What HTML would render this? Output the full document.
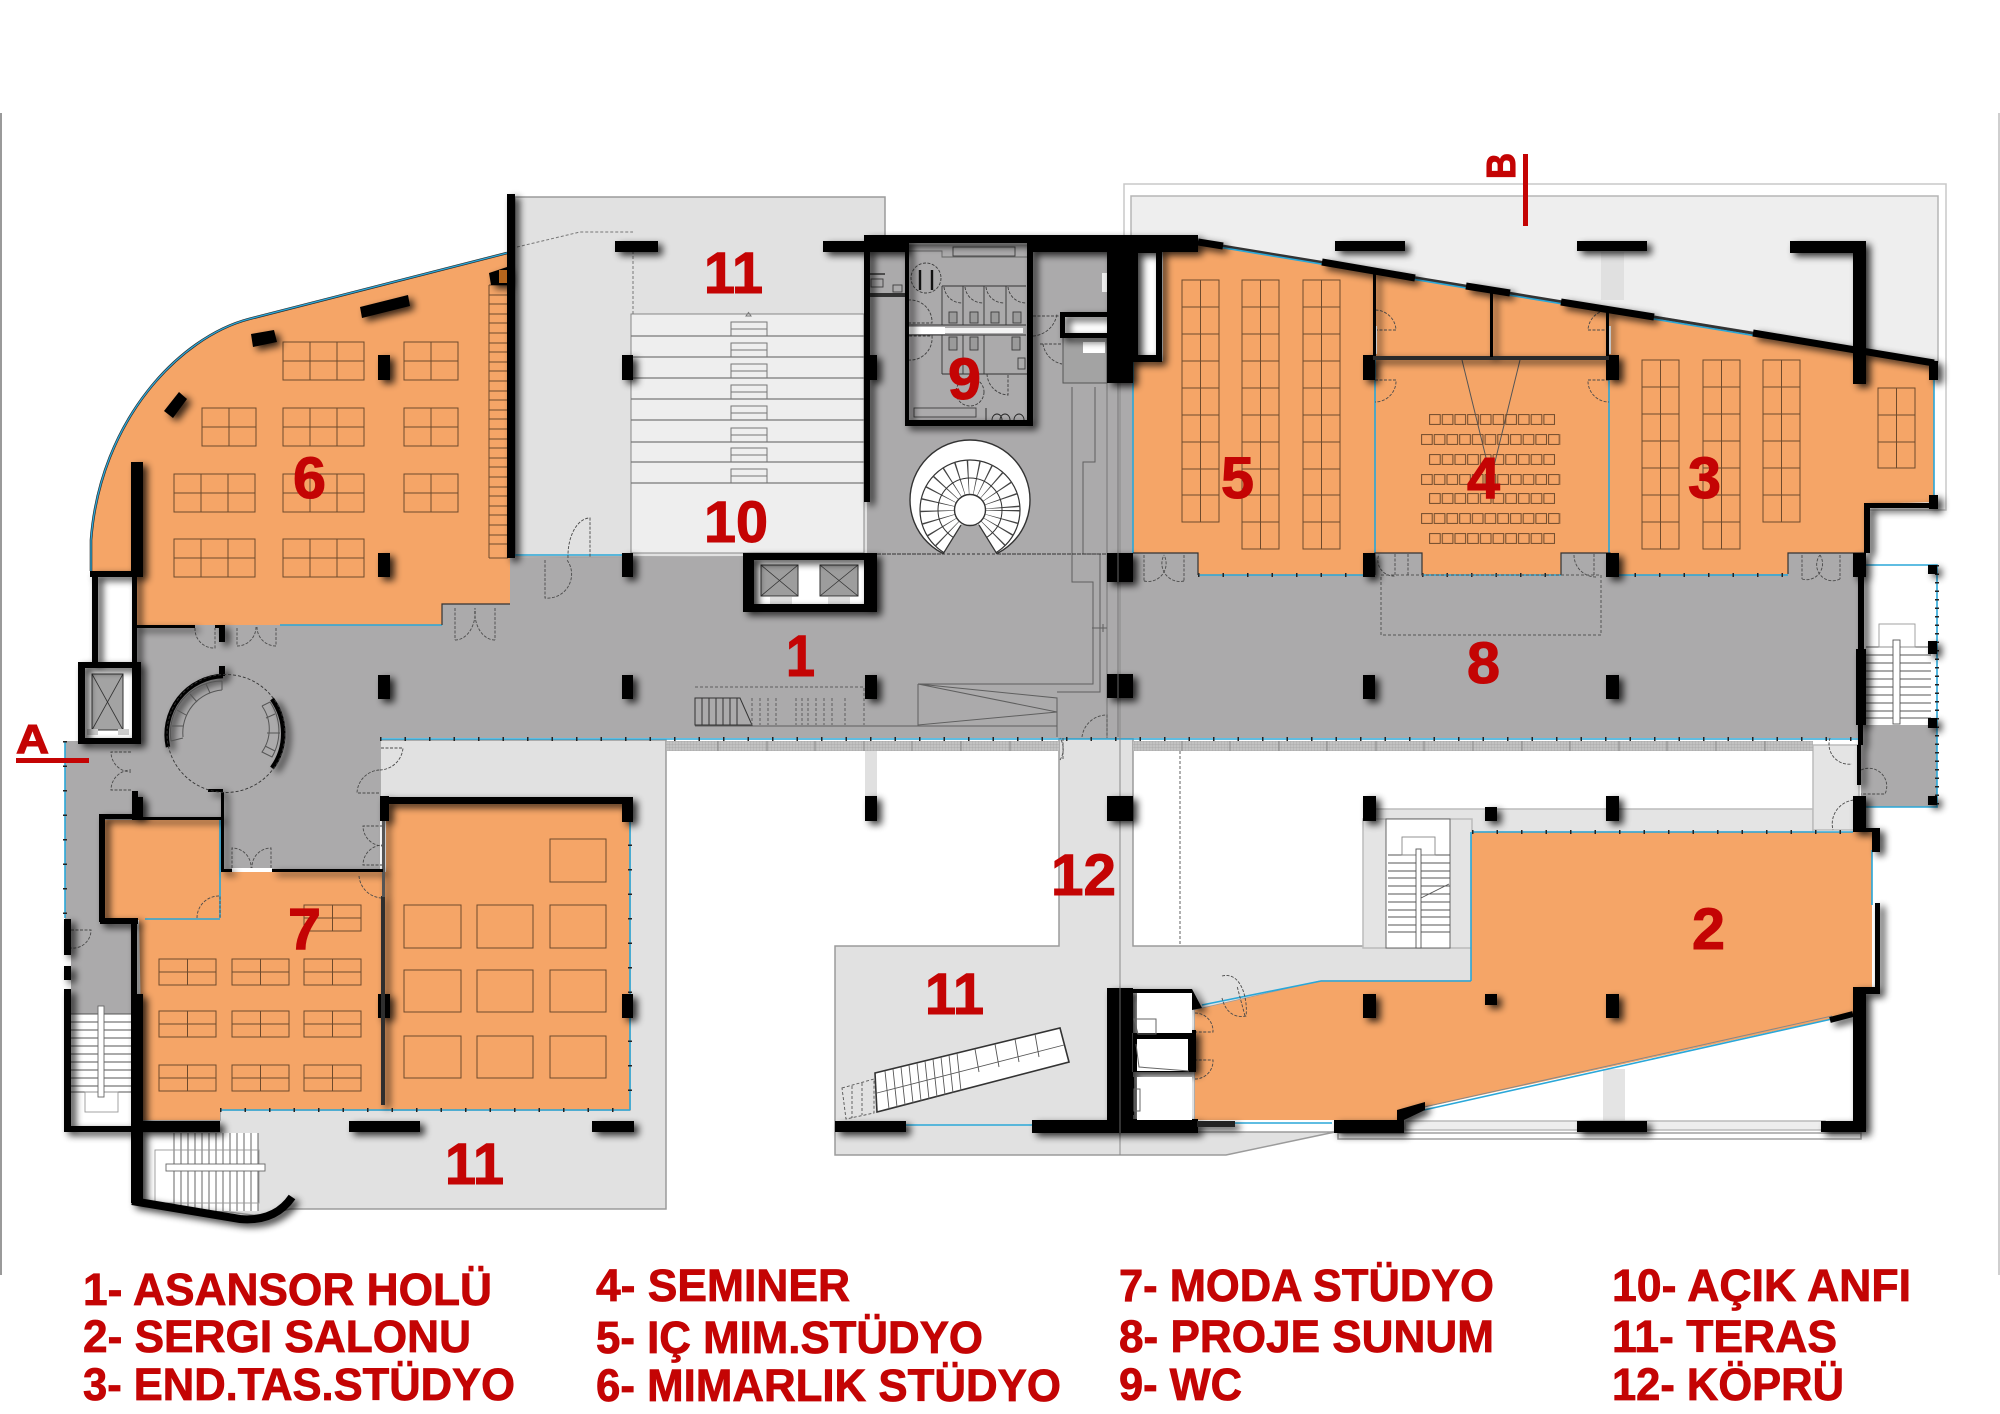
<!DOCTYPE html>
<html><head><meta charset="utf-8"><title>Plan</title>
<style>html,body{margin:0;padding:0;background:#fff}svg{display:block}
text{font-family:"Liberation Sans",sans-serif;font-weight:bold;fill:#c40404;stroke:#c40404}</style></head>
<body>
<svg xmlns="http://www.w3.org/2000/svg" width="2000" height="1414" viewBox="0 0 2000 1414">
<defs>
<filter id="sh" filterUnits="userSpaceOnUse" x="0" y="0" width="2000" height="1414">
<feGaussianBlur in="SourceAlpha" stdDeviation="3.600" result="b"/><feOffset in="b" dx="4.500" dy="3.500" result="o"/>
<feComponentTransfer in="o" result="c"><feFuncA type="linear" slope=".8"/></feComponentTransfer>
<feMerge><feMergeNode in="c"/><feMergeNode in="SourceGraphic"/></feMerge></filter>
<g id="d32" fill="none" stroke="#6f4a2c" stroke-width="1"><rect width="81" height="38"/><path d="M27 0v38M54 0v38M0 19h81"/></g>
<g id="d22" fill="none" stroke="#6f4a2c" stroke-width="1"><rect width="54" height="38"/><path d="M27 0v38M0 19h54"/></g>
<g id="m" fill="none" stroke="#6f4a2c" stroke-width="1"><rect width="57" height="26"/><path d="M28.500 0v26M0 13h57"/></g>
<pattern id="seat" width="12.700" height="11" patternUnits="userSpaceOnUse"><rect x=".6" y=".6" width="10.600" height="9.800" fill="none" stroke="#6f4a2c" stroke-width="1"/></pattern>
<pattern id="hatch" width="3" height="3" patternUnits="userSpaceOnUse"><rect width="3" height="3" fill="#c2c2c2"/><path d="M0 0h3M0 0v3" stroke="#a5a5a5" stroke-width=".7"/></pattern>
</defs>
<rect width="2000" height="1414" fill="#fff"/>
<rect x="0" y="113" width="2" height="1162" fill="#9a9a9a"/>
<rect x="1998" y="113" width="2" height="1162" fill="#cfcfcf"/>

<!-- terraces -->
<g stroke="#9b9b9b" stroke-width="1.500">
<rect x="1124" y="184" width="822" height="326" fill="#fff" stroke="#c8c8c8"/>
<polygon points="1131,196 1938,196 1938,362 1198,243 1131,243" fill="#eeeeee" stroke="#b5b5b5"/>
<rect x="515" y="197" width="370" height="360" fill="#e1e1e1"/>
<polygon points="380,740 666,740 666,1209 290,1209 260,1216 135,1200 135,1120 220,1120 220,1110 630,1110 630,804 380,804" fill="#e1e1e1"/>
<polygon points="1059,738 1133,738 1133,946 1472,946 1472,981 1321,981 1195,1010 1195,1132 1335,1132 1226,1155 835,1155 835,946 1059,946" fill="#e1e1e1"/>
<rect x="1370" y="809" width="443" height="23" fill="#e4e4e4" stroke="#bbb"/>
<rect x="1813" y="745" width="46" height="85" fill="#e4e4e4" stroke="#bbb"/>
<rect x="1363" y="819" width="109" height="129" fill="#e4e4e4" stroke="#bbb"/>
<rect x="1603" y="1069" width="22" height="54" fill="#e4e4e4" stroke="none"/>
<rect x="1601" y="252" width="23" height="48" fill="#e0e0e0" stroke="none"/>
<rect x="865" y="750" width="12" height="48" fill="#e0e0e0" stroke="none"/>
<rect x="1405" y="1121" width="420" height="9" fill="#eee" stroke="#bbb"/>
<rect x="1338" y="1133" width="523" height="6" fill="#fff" stroke="#a0a0a0"/>
</g>
<rect x="631" y="314" width="233" height="239" fill="#eeeeee" stroke="#888" stroke-width="1"/>
<path d="M633 314V241M517 247L580 232H633" fill="none" stroke="#777" stroke-width="1" stroke-dasharray="3 2"/>
<g stroke="#777" stroke-width="1.200"><path d="M631 336h233M631 357h233M631 378h233M631 399h233M631 420h233M631 442h233M631 462h233M631 483h233"/></g>
<g fill="none" stroke="#777" stroke-width="1">
<path d="M731 336v-14h36v14M731 329h36M731 357v-14h36v14M731 350h36M731 378v-14h36v14M731 371h36M731 399v-14h36v14M731 392h36M731 420v-14h36v14M731 413h36M731 442v-14h36v14M731 435h36M731 462v-14h36v14M731 455h36M731 483v-14h36v14M731 476h36"/>
<path d="M746 316l2.500-3.500 2.500 3.500z"/></g>

<!-- grey floors -->
<polygon points="867,241 1133,241 1133,553 1858,553 1858,738 380,738 380,870 220,870 220,820 105,820 105,920 137,920 137,1014 71,1014 71,920 65,920 65,741 85,741 85,662 137,662 137,625 442,625 442,604 510,604 510,558 867,555" fill="#abaaab"/>
<rect x="1861" y="725" width="76" height="82" fill="#abaaab"/>
<rect x="1860" y="565" width="76" height="160" fill="#fff"/>
<rect x="70" y="1014" width="61" height="111" fill="#fff"/>

<!-- hatch band -->
<rect x="666" y="741" width="393" height="10" fill="url(#hatch)"/>
<rect x="1133" y="741" width="680" height="10" fill="url(#hatch)"/>
<path d="M718 741v10M767 741v10M815 741v10M864 741v10M912 741v10M961 741v10M1010 741v10M1182 741v10M1230 741v10M1279 741v10M1327 741v10M1376 741v10M1424 741v10M1473 741v10M1522 741v10M1570 741v10M1619 741v10M1667 741v10M1716 741v10M1765 741v10" stroke="#888" stroke-width="1"/>

<!-- orange rooms -->
<g fill="#f5a567">
<path d="M507,253 L249,319 C180,337 100,420 91,540 L91,571 L137,571 L137,625 L442,625 L442,604 L510,604 L510,558 L507,558 Z"/>
<polygon points="1133,361 1163,361 1163,252 1198,242 1934,363 1934,502 1864,504 1864,553 1788,553 1788,574 1610,575 1610,553 1561,553 1561,575 1422,575 1422,553 1375,553 1375,575 1198,575 1198,553 1133,553"/>
<polygon points="1472,832 1872,832 1872,987 1853,987 1853,1014 1399,1113 1399,1120 1195,1120 1195,1010 1321,981 1471,981"/>
<rect x="104" y="820" width="116" height="100"/>
<polygon points="220,872 386,872 386,804 630,804 630,1110 220,1110 220,1120 143,1120 139,918 220,918"/>
</g>
<rect x="97" y="577" width="35" height="85" fill="#fff"/>

<!-- window lines -->
<g fill="none">
<path d="M507,253 L249,319 C180,337 100,420 91,540 L91,571" stroke="#2b2b2b" stroke-width="2.600"/>
<path d="M507,253 L249,319 C180,337 100,420 91,540 L91,571" stroke="#2aa7d8" stroke-width="1.300"/>
<path d="M1198,242 L1934,363" stroke="#333" stroke-width="3"/>
<g stroke="#2aa7d8" stroke-width="1.600">
<path d="M1200,244 L1932,365"/>
<path d="M1198 575H1375M1422 575H1561M1610 575H1788M1133 361V553M1375 360V553M1609 360V553M1934 380V495"/>
<path d="M515 555H622M280 625H442M65 741V918M380 739H1858M1472 832H1853M1471 832V981M1321 981H1471M1202,1005 L1321,981M1424,1110 L1832,1019M1872 850V905M1235 1123H1332M906 1125H1032M1860 565H1937V807H1861M630 820V1110M220 1110H630M220 820V918M145 919H220"/>
</g>
<path d="M1424,1107 L1832,1016" stroke="#888" stroke-width="1"/>
<path d="M380 739H1858" stroke="#222" stroke-width="4" stroke-dasharray="1.500 23"/>
<path d="M1198 575H1375M1422 575H1561M1610 575H1788M1472 832H1853M65 741V918M630 820V1110M220 1110H630" stroke="#222" stroke-width="4" stroke-dasharray="1.500 23"/>
<path d="M1937 565V807" stroke="#222" stroke-width="4" stroke-dasharray="1.500 7"/>
<path d="M1198 575V553H1133M1375 575V553H1422V575M1561 575V553H1610V575M1788 574V553H1864M442 625V604H510" stroke="#333" stroke-width="1.200"/>
</g>

<!-- furniture -->
<g>
<use href="#d32" x="283" y="342"/><use href="#d22" x="404" y="342"/>
<use href="#d22" x="202" y="408"/><use href="#d32" x="283" y="408"/><use href="#d22" x="404" y="408"/>
<use href="#d32" x="174" y="474"/><use href="#d32" x="283" y="474"/><use href="#d22" x="404" y="474"/>
<use href="#d32" x="174" y="539"/><use href="#d32" x="283" y="539"/>
<use href="#m" x="159" y="959"/><use href="#m" x="232" y="959"/><use href="#m" x="304" y="959"/>
<use href="#m" x="159" y="1011"/><use href="#m" x="232" y="1011"/><use href="#m" x="304" y="1011"/>
<use href="#m" x="159" y="1065"/><use href="#m" x="232" y="1065"/><use href="#m" x="304" y="1065"/>
<use href="#m" x="304" y="905"/>
</g>
<g fill="none" stroke="#6f4a2c" stroke-width="1">
<rect x="404" y="905" width="57" height="43"/><rect x="477" y="905" width="56" height="43"/><rect x="550" y="905" width="56" height="43"/>
<rect x="404" y="970" width="57" height="42"/><rect x="477" y="970" width="56" height="42"/><rect x="550" y="970" width="56" height="42"/>
<rect x="404" y="1036" width="57" height="42"/><rect x="477" y="1036" width="56" height="42"/><rect x="550" y="1036" width="56" height="42"/>
<rect x="550" y="839" width="56" height="43"/>
<path d="M489 285H508M489 295H508M489 304H508M489 314H508M489 323H508M489 333H508M489 343H508M489 352H508M489 362H508M489 371H508M489 381H508M489 391H508M489 400H508M489 410H508M489 419H508M489 429H508M489 439H508M489 448H508M489 458H508M489 467H508M489 477H508M489 487H508M489 496H508M489 506H508M489 515H508M489 525H508M489 535H508M489 544H508M489 558H508M489 285V558"/>
<path d="M1182 280h37v242h-37zM1200.500 280v242M1182 307h37M1182 334h37M1182 361h37M1182 388h37M1182 415h37M1182 442h37M1182 469h37M1182 495h37"/>
<path d="M1242 280h37v269h-37zM1260.500 280v269M1242 307h37M1242 334h37M1242 361h37M1242 388h37M1242 415h37M1242 442h37M1242 469h37M1242 495h37M1242 522h37"/>
<path d="M1303 280h37v269h-37zM1321.500 280v269M1303 307h37M1303 334h37M1303 361h37M1303 388h37M1303 415h37M1303 442h37M1303 469h37M1303 495h37M1303 522h37"/>
<path d="M1642 360h37v189h-37zM1660.500 360v189M1642 387h37M1642 414h37M1642 441h37M1642 468h37M1642 495h37M1642 522h37"/>
<path d="M1703 360h37v189h-37zM1721.500 360v189M1703 387h37M1703 414h37M1703 441h37M1703 468h37M1703 495h37M1703 522h37"/>
<path d="M1763 360h37v162h-37zM1781.500 360v162M1763 387h37M1763 414h37M1763 441h37M1763 468h37M1763 495h37"/>
<path d="M1878 388h37v80h-37zM1896.500 388v80M1878 415h37M1878 442h37"/>
<path d="M1462 360L1491 478M1520 360L1491 478" stroke="#555"/>
</g>
<rect x="1461" y="357" width="60" height="3" fill="#777"/>
<g><g transform="translate(1429,414)"><rect width="127" height="11" fill="url(#seat)"/></g>
<g transform="translate(1421,434)"><rect width="140" height="11" fill="url(#seat)"/></g>
<g transform="translate(1429,454)"><rect width="127" height="11" fill="url(#seat)"/></g>
<g transform="translate(1421,474)"><rect width="140" height="11" fill="url(#seat)"/></g>
<g transform="translate(1429,493)"><rect width="127" height="11" fill="url(#seat)"/></g>
<g transform="translate(1421,513)"><rect width="140" height="11" fill="url(#seat)"/></g>
<g transform="translate(1429,533)"><rect width="127" height="11" fill="url(#seat)"/></g></g>
<rect x="1381" y="575" width="220" height="60" fill="none" stroke="#555" stroke-width="1" stroke-dasharray="3 2"/>

<!-- core lines -->
<g fill="none" stroke="#5f5f5f" stroke-width="1">
<path d="M1120 240V1155" stroke="#8a8a8a"/>
<path d="M1107 383V737M1118 383V737" stroke="#777"/>
<path d="M1072 387V582H1093V684H918M1095 387V462H1083V554H1100V692H1057"/>
<path d="M918 684V725L1057 712L918 684M918 684L1057 698V737M867 726H1057"/>
<path d="M1092 628h15M1103 624v8"/>
<path d="M695 726H918"/>
<path d="M868 554H1107" stroke-dasharray="3 2" stroke="#333"/>
<path d="M695 698h45l12 27h-57zM702 698v27M709 698v27M716 698v27M723 698v27M730 698v27M737 698v27" stroke="#333"/>
<path d="M695 687H864V725M752 698v27M760 698v27M768 698v27M776 698v27M796 698v27M802 698v27M808 698v27M816 698v27M824 698v27M832 698v27M845 698v27" stroke-dasharray="3 2"/>
<path d="M1180 751V946" stroke-dasharray="3 2"/>
</g>

<!-- spiral stair -->
<circle cx="970" cy="500" r="60" fill="#fff" stroke="#333" stroke-width="1.400"/>
<circle cx="970" cy="510" r="50" fill="#fff" stroke="#333" stroke-width="1.200"/>
<circle cx="970" cy="510" r="33" fill="none" stroke="#444" stroke-width="34" stroke-dasharray="1 7.500"/>
<circle cx="970" cy="510" r="32" fill="none" stroke="#333" stroke-width="1"/>
<polygon points="943,554 961,525 979,525 997,554 997,564 943,564" fill="#abaaab"/>
<path d="M943 554L961 525M997 554L979 525" stroke="#333" stroke-width="1.200"/>
<circle cx="970" cy="510" r="15.500" fill="#fff" stroke="#333" stroke-width="1.400"/>
<path d="M867 554H1107" stroke="#333" stroke-width="1" stroke-dasharray="3 2"/>

<!-- WC -->
<rect x="908" y="241" width="120" height="3.500" fill="#f2f2f2"/>
<rect x="908" y="327" width="37" height="7" fill="#fff"/>
<rect x="945" y="328" width="78" height="5" fill="#f4f4f4"/>
<g fill="none" stroke="#3d3d3d" stroke-width=".9">
<path d="M908 251H942V257H1027" stroke="#666"/>
<rect x="953" y="247" width="62" height="9"/>
<circle cx="926" cy="278" r="15" stroke-dasharray="3 1.500"/>
<path d="M920 270v20M932 270v20" stroke="#111" stroke-width="2.400"/>
<path d="M942 286H1026M942 286v39M963 286v39M984 286v39M1006 286v39M942 335v39M963 335v39M984 335v39M942 374H1027M908 325H1026M908 335H1026" stroke="#333"/>
<rect x="949" y="312" width="8" height="11" fill="#9a9a9a"/><rect x="970" y="312" width="8" height="11" fill="#9a9a9a"/><rect x="991" y="312" width="8" height="11" fill="#9a9a9a"/><rect x="1013" y="312" width="8" height="11" fill="#9a9a9a"/>
<rect x="949" y="337" width="8" height="13" fill="#9a9a9a"/><rect x="970" y="337" width="8" height="13" fill="#9a9a9a"/><rect x="1012" y="337" width="8" height="13" fill="#9a9a9a"/>
<path d="M944 287a18 18 0 0 0 18 16M965 287a18 18 0 0 0 18 16M986 287a18 18 0 0 0 18 16M1008 287a18 18 0 0 0 18 16" stroke-dasharray="3 1.500"/>
<path d="M908 300a22 22 0 0 1 24 23H908M908 360a22 22 0 0 0 24-24H908" stroke-dasharray="3 1.500"/>
<path d="M987 374a22 22 0 0 0 21 21V374" stroke-dasharray="3 1.500"/>
<circle cx="970" cy="392" r="14" stroke-dasharray="3 1.500"/>
<rect x="914" y="408" width="62" height="9"/>
<path d="M986 408v12M992 420a5 6 0 0 1 10 0M1000 420a5 6 0 0 1 10 0M1014 420a5 6 0 0 1 10 0" stroke="#222"/>
<rect x="1018" y="358" width="7" height="11"/>
<path d="M870 274h15" stroke="#111" stroke-width="1.200"/>
<rect x="871" y="279" width="12" height="8"/><rect x="893" y="285" width="9" height="7"/>
</g>
<rect x="870" y="293" width="35" height="4" fill="#333"/>
<!-- small shaft -->
<rect x="1063" y="337" width="44" height="46" fill="#a3a3a3" stroke="#555" stroke-width="1"/>
<rect x="1065" y="317" width="42" height="16" fill="#fff"/>
<rect x="1083" y="342" width="22" height="11" fill="#fff"/>
<rect x="1102" y="273" width="5" height="19" fill="#eee"/>
<path d="M1033 316H1060M1033 336a26 26 0 0 0 24-22M1040 344h22M1043 344a24 24 0 0 0 19 20" fill="none" stroke="#444" stroke-width=".9" stroke-dasharray="3 1.500"/>

<!-- elevators -->
<rect x="754" y="560" width="110" height="44" fill="#fff"/>
<g fill="#9d9d9d" stroke="#333" stroke-width="1"><rect x="761" y="565" width="37" height="31"/><rect x="820" y="565" width="38" height="31"/></g>
<path d="M761 565l37 31M798 565l-37 31M820 565l38 31M858 565l-38 31" stroke="#333" stroke-width=".8"/>
<rect x="770" y="597" width="22" height="8" fill="#ddd"/><rect x="828" y="597" width="22" height="8" fill="#ddd"/>
<rect x="85" y="668" width="47" height="70" fill="#fff"/>
<rect x="92" y="674" width="31" height="56" fill="#a3a3a3" stroke="#333" stroke-width="1"/>
<path d="M92 674l31 56M123 674l-31 56" stroke="#333" stroke-width=".8"/>
<rect x="87" y="729" width="11" height="6" fill="#ccc"/><rect x="118" y="729" width="11" height="6" fill="#ccc"/>

<!-- stairs -->
<rect x="140" y="1133" width="118" height="78" fill="#fff"/>
<rect x="1386" y="819" width="64" height="129" fill="#fff" stroke="#666" stroke-width="1"/>
<g stroke="#555" stroke-width=".9" fill="none">
<path d="M174 1133v72M181 1133v74M188 1133v75M195 1133v76M202 1133v77M209 1133v78M216 1133v78M223 1133v78M230 1133v78M237 1133v78M244 1133v78M251 1133v78M258 1133v78"/>
<rect x="155" y="1150" width="104" height="53" stroke="#999"/>
<rect x="166" y="1164" width="99" height="7" fill="#fff" stroke="#666"/>
<path d="M70 1014h61M70 1022h61M70 1030h61M70 1038h61M70 1046h61M70 1054h61M70 1062h61M70 1070h61M70 1078h61M70 1086h61M70 1092h61"/>
<rect x="85" y="1092" width="33" height="20" stroke="#999"/>
<rect x="98" y="1006" width="6" height="91" fill="#fff" stroke="#666"/>
<path d="M1388 855h62M1388 863h62M1388 871h62M1388 878h62M1388 886h62M1388 894h62M1388 902h62M1388 910h62M1388 917h62M1388 925h62M1388 932h62"/>
<rect x="1402" y="837" width="33" height="18" stroke="#888"/>
<rect x="1416" y="849" width="5" height="99" fill="#fff" stroke="#555"/>
<path d="M1421 898l28-14"/>
<path d="M1866 647h65M1866 655h65M1866 663h65M1866 671h65M1866 679h65M1866 687h65M1866 695h65M1866 703h65M1866 711h65M1866 718h65"/>
<rect x="1879" y="624" width="36" height="23" stroke="#999"/>
<rect x="1893" y="640" width="7" height="84" fill="#fff" stroke="#555"/>
<polygon points="875,1073 1060,1028 1069,1062 877,1112" fill="#fff" stroke="#333" stroke-width="1.600"/>
<path d="M877 1093L1064 1045M885 1071l4 38M893 1069l4 38M901 1067l4 38M909 1065l4 38M917 1063l4 38M925 1061l4 38M933 1059l4 38M941 1057l4 38M949 1055l4 38M957 1053l4 38M975 1049l4 23M995 1044l4 23M1015 1039l4 23M1035 1034l4 23"/>
<path d="M842 1088l32-9v34l-28 6zM852 1086v32M862 1083v32" stroke-dasharray="3 2"/>
</g>

<!-- doors -->
<g fill="none" stroke="#4a4a4a" stroke-width=".9" stroke-dasharray="3 1.500">
<path d="M545 560v38a24 24 0 0 0 22-38M568 558a22 38 0 0 1 22-40v40"/>
<path d="M455 608v32M495 608v32M455 640a20 28 0 0 0 20-32M495 640a20 28 0 0 1-20-32"/>
<path d="M237 628v18M276 628v18M237 646a19 19 0 0 0 19-19M276 646a19 19 0 0 1-19-19"/>
<path d="M195 628a19 19 0 0 0 20 20V628"/>
<path d="M131 752h-20a20 20 0 0 0 20 20M131 790h-20a20 20 0 0 1 20-20"/>
<path d="M381 748h22a24 24 0 0 1-24 22M379 793h-22a24 24 0 0 1 22-23"/>
<path d="M383 826h-20a20 20 0 0 0 20 20M383 865h-20a20 20 0 0 1 20-20"/>
<path d="M232 868v-20a19 19 0 0 1 19 20M271 868v-20a19 19 0 0 0-19 20"/>
<path d="M359 876a24 24 0 0 0 24 22"/>
<path d="M197 918a22 22 0 0 1 23-22v22"/>
<path d="M1144 555v26M1184 555v26M1144 581a18 18 0 0 0 20-26M1184 581a18 18 0 0 1-20-26"/>
<path d="M1395 554v22a16 16 0 0 1-16-22M1408 554v22"/>
<path d="M1574 555a22 22 0 0 0 22 22M1594 554v22"/>
<path d="M1802 555v24M1840 555v24M1802 579a16 16 0 0 0 18-24M1840 579a16 16 0 0 1-20-24"/>
<path d="M1375 330h21a21 21 0 0 0-21-20M1609 330h-21a21 21 0 0 1 21-20M1375 380h21a21 21 0 0 1-21 22M1609 380h-21a21 21 0 0 0 21 22"/>
<path d="M1082 737a25 25 0 0 1 25-22V738"/>
<path d="M1060 760a24 22 0 0 0 0-22M1063 738v22"/>
<path d="M1830 738a20 20 0 0 0 22 26M1858 800a24 24 0 0 0-25 30M1861 770a18 18 0 0 1 24 24h-24"/>
<path d="M1195 1013a18 18 0 0 1 18 19h-18M1195 1079a18 18 0 0 0 18-19h-18"/>
<path d="M1222 976c20-5 26 25 24 40-10 2-20-2-24-18M1245 1016l-8-30"/>
<path d="M71 930h20a18 18 0 0 1-20 18"/>
</g>
<rect x="1373" y="326" width="4" height="28" fill="#fff"/><rect x="1607" y="326" width="4" height="28" fill="#fff"/>
<rect x="232" y="868" width="40" height="4" fill="#fff"/>

<!-- walls -->
<g fill="#050505" filter="url(#sh)">
<rect x="507" y="194" width="8" height="364"/>
<polygon points="489,273 507,267 508,285 491,285"/>
<polygon points="360,307 408,295 410,306 362,318"/>
<polygon points="251,334 274,330 277,342 253,347"/>
<polygon points="179,392 187,399 173,418 164,411"/>
<rect x="131" y="462" width="12" height="115"/>
<rect x="90" y="571" width="53" height="6"/><rect x="92" y="571" width="6" height="91"/><rect x="132" y="577" width="5" height="85"/>
<rect x="137" y="625" width="58" height="3"/><rect x="215" y="625" width="10" height="3"/><rect x="219" y="628" width="6" height="14"/><rect x="219" y="666" width="6" height="10"/>
<path d="M78 662h63v82h-63zM85 668v70h47v-70z" fill-rule="evenodd"/>
<rect x="378" y="355" width="12" height="25"/><rect x="378" y="553" width="12" height="24"/><rect x="378" y="675" width="12" height="24"/>
<rect x="622" y="355" width="11" height="25"/><rect x="622" y="553" width="11" height="24"/><rect x="622" y="675" width="11" height="24"/>
<rect x="865" y="355" width="12" height="25"/><rect x="865" y="675" width="12" height="24"/>
<rect x="615" y="241" width="43" height="11"/><rect x="823" y="241" width="82" height="11"/>
<rect x="864" y="235" width="334" height="7"/><rect x="864" y="241" width="6" height="261"/>
<rect x="1033" y="241" width="165" height="11"/>
<path d="M743 553h134v59h-134zM754 560v44h110v-44z" fill-rule="evenodd"/>
<path d="M905 241h128v185h-128zM909 243v177h118v-177z" fill-rule="evenodd"/>
<rect x="1107" y="241" width="26" height="142"/>
<path d="M1133 252h29v110h-29zM1138 253v102h18v-102z" fill-rule="evenodd"/>
<path d="M1060 312h47v26h-47zM1065 317v16h42v-16z" fill-rule="evenodd"/>
<rect x="1107" y="553" width="26" height="29"/><rect x="1107" y="674" width="26" height="24"/>
<rect x="1363" y="355" width="12" height="25"/><rect x="1363" y="553" width="12" height="24"/><rect x="1363" y="675" width="12" height="24"/>
<rect x="1606" y="355" width="13" height="25"/><rect x="1606" y="553" width="13" height="24"/><rect x="1606" y="675" width="13" height="24"/>
<rect x="1373" y="274" width="3" height="83"/><rect x="1606" y="312" width="3" height="45"/>
<rect x="1373" y="356" width="236" height="4" fill="#2b2b2b"/>
<rect x="1490" y="292" width="3" height="65"/>
<path d="M1198 242L1223 246M1322 262L1415 278M1466 286L1510 293M1561 302L1654 317M1753 333L1934 363" stroke="#050505" stroke-width="7" fill="none"/>
<rect x="1335" y="241" width="70" height="10"/><rect x="1577" y="241" width="70" height="10"/>
<rect x="1790" y="241" width="76" height="12"/><rect x="1853" y="241" width="13" height="143"/>
<rect x="1929" y="361" width="9" height="19"/><rect x="1929" y="495" width="9" height="14"/>
<rect x="1864" y="503" width="71" height="5"/><rect x="1864" y="503" width="6" height="50"/>
<rect x="1853" y="553" width="13" height="24"/>
<rect x="1858" y="577" width="6" height="72"/><rect x="1856" y="649" width="10" height="76"/><rect x="1858" y="725" width="5" height="20"/>
<rect x="1857" y="745" width="4" height="40"/>
<rect x="1928" y="565" width="9" height="9"/><rect x="1928" y="641" width="9" height="13"/><rect x="1928" y="718" width="9" height="10"/><rect x="1928" y="796" width="9" height="9"/>
<rect x="380" y="796" width="9" height="25"/><rect x="389" y="797" width="233" height="7"/><rect x="622" y="797" width="11" height="25"/>
<rect x="865" y="796" width="12" height="25"/>
<rect x="378" y="994" width="12" height="24"/><rect x="622" y="994" width="11" height="24"/>
<rect x="381" y="896" width="4" height="209" fill="#2e2e2e"/>
<rect x="382" y="821" width="3" height="76" fill="#555"/>
<rect x="349" y="1121" width="71" height="11"/><rect x="592" y="1121" width="42" height="11"/>
<rect x="99" y="814" width="6" height="108"/><rect x="99" y="814" width="33" height="5"/><rect x="132" y="817" width="89" height="3"/>
<rect x="132" y="797" width="11" height="23"/><rect x="132" y="791" width="6" height="6"/>
<rect x="221" y="792" width="3" height="80"/><rect x="221" y="869" width="11" height="3"/><rect x="272" y="869" width="111" height="3"/>
<rect x="100" y="918" width="38" height="6"/>
<rect x="64" y="919" width="7" height="36"/><rect x="64" y="966" width="7" height="14"/><rect x="64" y="989" width="7" height="141"/>
<rect x="64" y="1126" width="156" height="6"/>
<rect x="131" y="923" width="6" height="72"/><rect x="131" y="994" width="12" height="209"/>
<rect x="131" y="1121" width="89" height="11"/>
<rect x="208" y="789" width="15" height="3"/>
<path d="M132 1201L240 1219Q275 1222 292 1197" stroke="#050505" stroke-width="8" fill="none"/>
<path d="M223 676A58.500 58.500 0 0 0 168 747" stroke="#050505" stroke-width="4.500" fill="none"/>
<path d="M272 699A58.500 58.500 0 0 1 272 768" stroke="#050505" stroke-width="4.500" fill="none"/>
<rect x="1107" y="796" width="26" height="25"/><rect x="1363" y="796" width="13" height="25"/><rect x="1485" y="807" width="12" height="14"/><rect x="1606" y="796" width="13" height="25"/>
<rect x="1853" y="796" width="13" height="34"/>
<rect x="1363" y="994" width="13" height="24"/><rect x="1485" y="994" width="12" height="11"/><rect x="1606" y="994" width="13" height="24"/>
<path d="M1107 988h26v1h59l10 19-10 2v-17h-59v40h55v-3h8v42h-63v-39h-1v39h1v5h1v38h-1v4h65v13h-91z"/>
<rect x="1032" y="1120" width="166" height="13"/><rect x="1197" y="1121" width="38" height="6" fill="#222"/>
<rect x="835" y="1121" width="71" height="11"/>
<rect x="1334" y="1120" width="70" height="13"/><rect x="1577" y="1121" width="70" height="11"/><rect x="1821" y="1121" width="40" height="11"/>
<polygon points="1397,1110 1425,1102 1425,1110 1404,1120 1397,1120"/>
<rect x="1853" y="991" width="13" height="141"/><rect x="1853" y="987" width="27" height="7"/>
<rect x="1853" y="828" width="27" height="4"/><rect x="1872" y="828" width="8" height="24"/><rect x="1875" y="903" width="5" height="91"/>
<path d="M1830 1020L1853 1014" stroke="#050505" stroke-width="6" fill="none"/>
</g>
<rect x="499" y="270" width="8" height="13" fill="#b5651d"/>
<rect x="1137" y="993" width="55" height="40" fill="#fff"/>
<rect x="1137" y="1039" width="51" height="32" fill="#fff"/>
<rect x="1137" y="1077" width="55" height="43" fill="#fff"/>
<path d="M1134 1019h22v15h-18zM1136 1044l3 23 50 4M1134 1089h6v22h-6z" fill="none" stroke="#666" stroke-width="1"/>
<path d="M1120 988v145M1118 553v29M1118 674v24" stroke="#666" stroke-width="1"/>

<!-- lobby furniture -->
<circle cx="226" cy="733.500" r="59" fill="none" stroke="#333" stroke-width=".9" stroke-dasharray="3 2"/>
<g fill="none" stroke="#555" stroke-width="1">
<path d="M222 681A52 52 0 0 0 171 741M222 690A43 43 0 0 0 183 737M222 681v9M206 684l4 9M190 694l7 8M177 710l9 5M172 726h11M171 741l12-3"/>
<path d="M262 706L270 702A52 52 0 0 1 272 757L262 752A40 40 0 0 0 262 706M266 718l9-4M267 733h13M265 746l10 5"/>
</g>

<!-- plan labels -->
<g stroke-width="1.100">
<text x="704" y="293" font-size="58" textLength="59" lengthAdjust="spacingAndGlyphs">11</text>
<text x="704" y="542" font-size="58" textLength="64" lengthAdjust="spacingAndGlyphs">10</text>
<text x="293" y="498" font-size="58" textLength="33" lengthAdjust="spacingAndGlyphs">6</text>
<text x="786" y="676" font-size="58" textLength="29" lengthAdjust="spacingAndGlyphs">1</text>
<text x="948" y="399" font-size="58" textLength="33" lengthAdjust="spacingAndGlyphs">9</text>
<text x="1221" y="498" font-size="58" textLength="33" lengthAdjust="spacingAndGlyphs">5</text>
<text x="1467" y="498" font-size="58" textLength="33" lengthAdjust="spacingAndGlyphs">4</text>
<text x="1688" y="498" font-size="58" textLength="33" lengthAdjust="spacingAndGlyphs">3</text>
<text x="1467" y="683" font-size="58" textLength="33" lengthAdjust="spacingAndGlyphs">8</text>
<text x="288" y="949" font-size="58" textLength="33" lengthAdjust="spacingAndGlyphs">7</text>
<text x="445" y="1184" font-size="58" textLength="59" lengthAdjust="spacingAndGlyphs">11</text>
<text x="925" y="1014" font-size="58" textLength="59" lengthAdjust="spacingAndGlyphs">11</text>
<text x="1051" y="895" font-size="58" textLength="65" lengthAdjust="spacingAndGlyphs">12</text>
<text x="1692" y="949" font-size="58" textLength="33" lengthAdjust="spacingAndGlyphs">2</text>
<text x="16" y="753" font-size="41" textLength="33" lengthAdjust="spacingAndGlyphs">A</text>
<text transform="translate(1515,179) rotate(-90)" font-size="41" textLength="26" lengthAdjust="spacingAndGlyphs">B</text>
</g>
<rect x="16" y="758" width="73" height="5" fill="#c40404"/>
<rect x="1523" y="154" width="5" height="72" fill="#c40404"/>

<!-- legend -->
<g font-size="45" stroke-width=".8">
<text x="83" y="1305" textLength="409" lengthAdjust="spacingAndGlyphs">1- ASANSOR HOLÜ</text>
<text x="83" y="1352" textLength="388" lengthAdjust="spacingAndGlyphs">2- SERGI SALONU</text>
<text x="83" y="1400" textLength="432" lengthAdjust="spacingAndGlyphs">3- END.TAS.STÜDYO</text>
<text x="596" y="1301" textLength="254" lengthAdjust="spacingAndGlyphs">4- SEMINER</text>
<text x="596" y="1353" textLength="387" lengthAdjust="spacingAndGlyphs">5- IÇ MIM.STÜDYO</text>
<text x="596" y="1401" textLength="465" lengthAdjust="spacingAndGlyphs">6- MIMARLIK STÜDYO</text>
<text x="1119" y="1301" textLength="375" lengthAdjust="spacingAndGlyphs">7- MODA STÜDYO</text>
<text x="1119" y="1352" textLength="375" lengthAdjust="spacingAndGlyphs">8- PROJE SUNUM</text>
<text x="1119" y="1400" textLength="123" lengthAdjust="spacingAndGlyphs">9- WC</text>
<text x="1612" y="1301" textLength="299" lengthAdjust="spacingAndGlyphs">10- AÇIK ANFI</text>
<text x="1612" y="1352" textLength="225" lengthAdjust="spacingAndGlyphs">11- TERAS</text>
<text x="1612" y="1400" textLength="232" lengthAdjust="spacingAndGlyphs">12- KÖPRÜ</text>
</g>
</svg>
</body></html>
